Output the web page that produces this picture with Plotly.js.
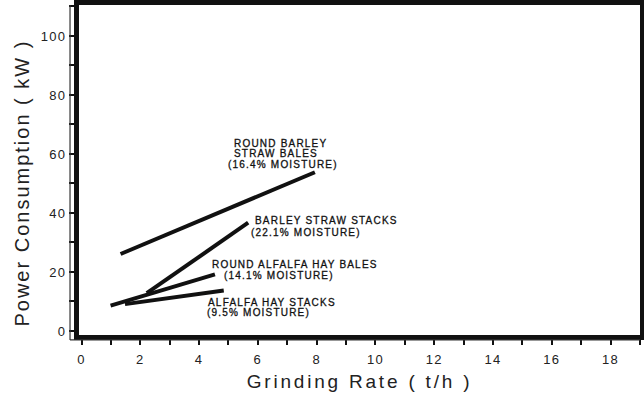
<!DOCTYPE html>
<html>
<head>
<meta charset="utf-8">
<script src="https://cdn.plot.ly/plotly-3.0.1.min.js"></script>
<style>
  html, body { margin: 0; padding: 0; background: #fff; }
  #chart { width: 644px; height: 395px; }
  .xtitle { letter-spacing: 2.8px; }
  .xtick text, .ytick text { letter-spacing: 1.3px; }
</style>
</head>
<body>
<div id="chart"></div>
<script>
// Series: straight lines (start and end points)
const seriesNames = [
  "Round barley straw bales",
  "Barley straw stacks",
  "Round alfalfa hay bales",
  "Alfalfa hay stacks"
];
const rateStart  = [1.33, 2.22, 0.99, 1.48];   // t/h
const rateEnd    = [7.94, 5.67, 4.54, 4.84];   // t/h
const powerStart = [26.1, 12.8, 8.6, 9.1];     // kW
const powerEnd   = [53.8, 36.7, 19.2, 13.7];   // kW

// Label texts (one entry per printed line)
const labelLines = [
  "ROUND BARLEY", "STRAW BALES", "(16.4% MOISTURE)",
  "BARLEY STRAW STACKS", "(22.1% MOISTURE)",
  "ROUND ALFALFA HAY BALES", "(14.1% MOISTURE)",
  "ALFALFA HAY STACKS", "(9.5% MOISTURE)"
];
const labelX = [5.15, 5.15, 4.95, 5.86, 5.73, 4.40, 4.81, 4.27, 4.23];
const labelY = [63.6, 60.2, 56.6, 37.4, 33.4, 22.4, 18.8, 9.5, 6.1];

const xTickVals = [0, 2, 4, 6, 8, 10, 12, 14, 16, 18];
const yTickVals = [0, 20, 40, 60, 80, 100];

const xTitle = "Grinding Rate ( t/h )";
const yTitle = "Power Consumption ( kW )";

const FONT = "Liberation Sans, Arial, Helvetica, sans-serif";

const traces = seriesNames.map((n, i) => ({
  type: "scatter",
  mode: "lines",
  name: n,
  x: [rateStart[i], rateEnd[i]],
  y: [powerStart[i], powerEnd[i]],
  line: { color: "#111", width: 4 },
  hoverinfo: "skip",
  showlegend: false
}));

const annotations = labelLines.map((t, i) => ({
  x: labelX[i], y: labelY[i], xref: "x", yref: "y",
  text: t, showarrow: false, xanchor: "left", yanchor: "middle", align: "left",
  borderpad: 0,
  font: { family: FONT, size: 10, color: "#111" }
}));
// y-axis title (drawn as a rotated annotation so it can sit where the original has it)
annotations.push({
  xref: "paper", yref: "paper", x: -0.1016, y: 0.459,
  text: yTitle, textangle: -90, showarrow: false,
  xanchor: "center", yanchor: "middle",
  font: { family: FONT, size: 20, color: "#222" }
});

const layout = {
  width: 644, height: 395,
  margin: { l: 79, r: 4, t: 5, b: 60 },
  paper_bgcolor: "#fff", plot_bgcolor: "#fff",
  showlegend: false,
  xaxis: {
    range: [-0.085, 19.0],
    tickvals: xTickVals,
    ticktext: xTickVals.map(String),
    ticks: "outside", ticklen: 5, tickwidth: 2, tickcolor: "#111",
    minor: { dtick: 1, ticks: "outside", ticklen: 5, tickwidth: 2, tickcolor: "#111" },
    showline: true, linecolor: "#111", linewidth: 5, mirror: true,
    showgrid: false, zeroline: false,
    tickfont: { family: FONT, size: 13, color: "#222" },
    ticklabelstandoff: 3,
    title: { text: xTitle, standoff: 11,
      font: { family: FONT, size: 19, color: "#222" } }
  },
  yaxis: {
    range: [-1.36, 110.5],
    tickvals: yTickVals,
    ticktext: yTickVals.map(String),
    ticks: "outside", ticklen: 5, tickwidth: 2, tickcolor: "#111",
    minor: { dtick: 10, ticks: "outside", ticklen: 5, tickwidth: 2, tickcolor: "#111" },
    showline: true, linecolor: "#111", linewidth: 5, mirror: true,
    showgrid: false, zeroline: false,
    tickfont: { family: FONT, size: 13, color: "#222" },
    ticklabelstandoff: 0
  },
  shapes: [
    { type: "line", xref: "paper", yref: "paper", x0: -0.016, x1: -0.016, y0: -0.015, y1: 1.0,
      line: { color: "#333", width: 1.2 } },
    { type: "line", xref: "paper", yref: "paper", x0: -0.016, x1: 1.0, y0: -0.015, y1: -0.015,
      line: { color: "#333", width: 1.2 } }
  ],
  annotations: annotations
};

Plotly.newPlot("chart", traces, layout, { displayModeBar: false, staticPlot: true }).then(gd => {
  gd.querySelectorAll("g.annotation").forEach(g => {
    const idx = g.getAttribute("data-index");
    g.querySelectorAll("text").forEach(t => {
      if (idx === String(labelLines.length)) {
        t.style.setProperty("letter-spacing", "2px", "important");
      } else {
        t.style.setProperty("letter-spacing", "1.2px", "important");
        t.style.setProperty("stroke", "#111");
        t.style.setProperty("stroke-width", "0.3px");
      }
    });
  });
});
</script>
</body>
</html>
